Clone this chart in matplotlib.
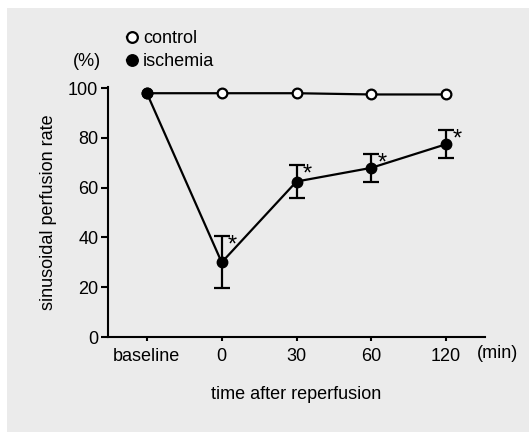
import matplotlib.pyplot as plt

plt.rcParams['font.family'] = ['Liberation Sans', 'DejaVu Sans']

# Data
categories = ["baseline", "0", "30", "60", "120"]
control = [98, 98, 98, 97.5, 97.5]
ischemia = [98, 30, 62.5, 68, 77.5]
ischemia_err = [None, 10.5, 6.7, 5.6, 5.7]
significant = [False, True, True, True, True]

x = list(range(len(categories)))
fs = 13

fig = plt.figure(figsize=(5.29, 4.32), dpi=100, facecolor='white')
# gray panel behind everything
fig.patches.append(plt.Rectangle((7 / 529, 0), 1, 1 - 8 / 432, transform=fig.transFigure,
                                 facecolor='#ebebeb', edgecolor='none', zorder=-1))

ax = fig.add_axes([108 / 529, (432 - 337) / 432, (485 - 108) / 529, (337 - 87) / 432])
ax.set_facecolor('none')

ax.plot(x, control, color='black', lw=1.6, marker='o', ms=7, mfc='white', mec='black',
        mew=1.6, zorder=3, label='control')
ax.plot(x, ischemia, color='black', lw=1.6, marker='o', ms=7.5, mfc='black', mec='black',
        zorder=4, label='ischemia')

ex = [xi for xi, e in zip(x, ischemia_err) if e is not None]
ey = [yi for yi, e in zip(ischemia, ischemia_err) if e is not None]
ee = [e for e in ischemia_err if e is not None]
ax.errorbar(ex, ey, yerr=ee, fmt='none', ecolor='black', elinewidth=1.6, capsize=6,
            capthick=1.6, zorder=2)

for xi, yi, e, s in zip(x, ischemia, ischemia_err, significant):
    if s:
        ax.annotate('*', (xi, yi + e), xytext=(4.5, -11), textcoords='offset points',
                    fontsize=17, ha='left', va='baseline')

ax.set_xlim(-0.52, 4.52)
ax.set_ylim(0, 100.5)
ax.set_yticks([0, 20, 40, 60, 80, 100])
ax.set_xticks(x)
ax.set_xticklabels(categories)
ax.tick_params(axis='y', direction='out', length=5, width=1.5, labelsize=fs, pad=2)
ax.tick_params(axis='x', direction='out', length=3, width=1.5, labelsize=fs, pad=5)
for side in ['top', 'right']:
    ax.spines[side].set_visible(False)
for side in ['left', 'bottom']:
    ax.spines[side].set_linewidth(1.5)

ax.set_ylabel('sinusoidal perfusion rate', fontsize=fs, labelpad=8)
ax.set_xlabel('time after reperfusion', fontsize=fs, labelpad=15)
ax.text(-0.056, 1.10, '(%)', transform=ax.transAxes, fontsize=fs, ha='center', va='center')
ax.text(0.979, -0.068, '(min)', transform=ax.transAxes, fontsize=fs, ha='left', va='center')

ax.legend(loc='upper left', bbox_to_anchor=(0.03, 1.255), frameon=False, fontsize=fs,
          handlelength=0.6, handletextpad=0.3, labelspacing=0.3, borderaxespad=0,
          markerscale=1.1)

fig.savefig('out.png', dpi=100)
